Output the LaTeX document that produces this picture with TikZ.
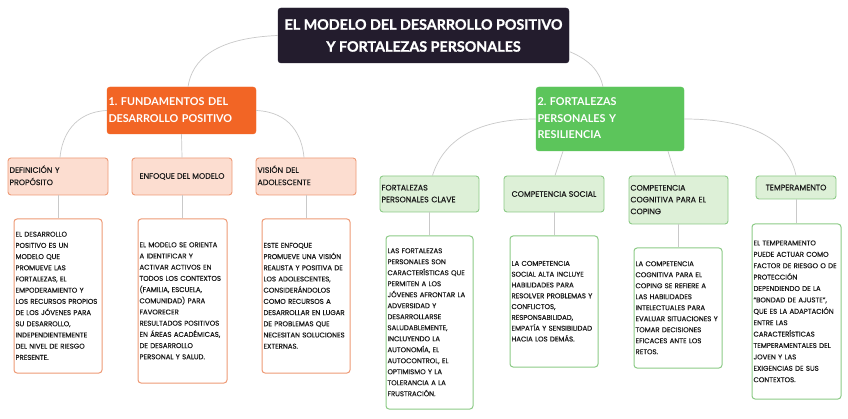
\documentclass[tikz,border=0pt]{standalone}
\usepackage{fontspec}
\setmainfont{Poppins}
\newfontfamily\txtfont{Poppins}[FakeBold=0.35]
\newfontfamily\latofont{Lato}
\newfontfamily\heavyfont{Lato}[FakeBold=1.2]
\usetikzlibrary{calc}
\definecolor{rootc}{HTML}{231C2D}
\definecolor{orn}{HTML}{F26525}
\definecolor{ornlt}{HTML}{FCDDD0}
\definecolor{ornbd}{HTML}{EE9A76}
\definecolor{grn}{HTML}{5CC55B}
\definecolor{grnlt}{HTML}{DDF0D7}
\definecolor{grnbd}{HTML}{8DCB87}
\definecolor{linec}{HTML}{C9C9C9}
\definecolor{txt}{HTML}{1A1A1A}
\newcommand\lns[1]{\begin{tabular}{@{}l@{}}#1\end{tabular}}
\tikzset{
  box/.style={rounded corners=3pt, inner xsep=1.5pt, inner ysep=0pt, align=left},
  rootbox/.style={box, fill=rootc, draw=rootc, text=white, align=center,
    font=\heavyfont\bfseries\fontsize{14.3}{22}\selectfont},
  onebox/.style={box, fill=orn, draw=orn, text=white,
    font=\latofont\bfseries\fontsize{10.8}{17.5}\selectfont},
  gonebox/.style={box, fill=grn, draw=grn, text=white,
    font=\latofont\bfseries\fontsize{10.8}{16.5}\selectfont},
  otwo/.style={box, fill=ornlt, draw=ornbd, line width=0.9pt, text=txt,
    font=\txtfont\fontsize{7.9}{12.3}\selectfont},
  gtwo/.style={box, fill=grnlt, draw=grnbd, line width=0.9pt, text=txt,
    font=\txtfont\fontsize{7.9}{11.8}\selectfont},
  odet/.style={box, fill=white, draw=ornbd, line width=1pt, text=txt,
    font=\txtfont\fontsize{6.95}{11.2}\selectfont},
  gdet/.style={box, fill=white, draw=grnbd, line width=1pt, text=txt,
    font=\txtfont\fontsize{6.95}{11}\selectfont},
  conn/.style={draw=linec, line width=0.7pt},
}
\begin{document}
\begin{tikzpicture}[x=1pt,y=-1pt]
\useasboundingbox[fill=white] (0,0) rectangle (848,419);
% nodes
\node[rootbox, minimum width=291, minimum height=55] (root) at (423.5,35.5)
  {EL MODELO DEL DESARROLLO POSITIVO\\Y FORTALEZAS PERSONALES};
\node[onebox, minimum width=149, minimum height=47, text width=146] (o1) at (181.5,110.5)
  {\lns{1.\ FUNDAMENTOS DEL\\DESARROLLO POSITIVO}};
\node[gonebox, minimum width=148, minimum height=64, text width=145] (g1) at (610,119)
  {\lns{2.\ FORTALEZAS\\PERSONALES Y\\RESILIENCIA}};
% orange level 2
\node[otwo, minimum width=100, minimum height=37, text width=97] (od1) at (58,176.5)
  {\lns{DEFINICIÓN Y\\PROPÓSITO}};
\node[otwo, minimum width=100, minimum height=37, align=center] (od2) at (182,176.5)
  {ENFOQUE DEL MODELO};
\node[otwo, minimum width=100, minimum height=37, text width=97] (od3) at (306,176.5)
  {\lns{VISIÓN DEL\\ADOLESCENTE}};
% green level 2
\node[gtwo, minimum width=99, minimum height=36, text width=96] (gd1) at (429.5,194)
  {\lns{FORTALEZAS\\PERSONALES CLAVE}};
\node[gtwo, minimum width=100, minimum height=36, align=center] (gd2) at (554,194)
  {COMPETENCIA SOCIAL};
\node[gtwo, minimum width=99, minimum height=48, text width=96] (gd3) at (678.5,200)
  {\lns{COMPETENCIA\\COGNITIVA PARA EL\\COPING}};
\node[gtwo, minimum width=80, minimum height=23, align=center] (gd4) at (796,187.5)
  {TEMPERAMENTO};
% orange details
\node[odet, minimum width=88, minimum height=154, text width=85] (ot1) at (58,296)
  {\lns{EL DESARROLLO\\POSITIVO ES UN\\MODELO QUE\\PROMUEVE LAS\\FORTALEZAS, EL\\EMPODERAMIENTO Y\\LOS RECURSOS PROPIOS\\DE LOS JÓVENES PARA\\SU DESARROLLO,\\INDEPENDIENTEMENTE\\DEL NIVEL DE RIESGO\\PRESENTE.}};
\node[odet, minimum width=89, minimum height=164, text width=86] (ot2) at (182.5,301)
  {\lns{EL MODELO SE ORIENTA\\A IDENTIFICAR Y\\ACTIVAR ACTIVOS EN\\TODOS LOS CONTEXTOS\\(FAMILIA, ESCUELA,\\COMUNIDAD) PARA\\FAVORECER\\RESULTADOS POSITIVOS\\EN ÁREAS ACADÉMICAS,\\DE DESARROLLO\\PERSONAL Y SALUD.}};
\node[odet, minimum width=88, minimum height=154, text width=85] (ot3) at (306,296)
  {\lns{ESTE ENFOQUE\\PROMUEVE UNA VISIÓN\\REALISTA Y POSITIVA DE\\LOS ADOLESCENTES,\\CONSIDERÁNDOLOS\\COMO RECURSOS A\\DESARROLLAR EN LUGAR\\DE PROBLEMAS QUE\\NECESITAN SOLUCIONES\\EXTERNAS.}};
% green details
\node[gdet, minimum width=87, minimum height=173, text width=84] (gt1) at (429.5,322.5)
  {\lns{LAS FORTALEZAS\\PERSONALES SON\\CARACTERÍSTICAS QUE\\PERMITEN A LOS\\JÓVENES AFRONTAR LA\\ADVERSIDAD Y\\DESARROLLARSE\\SALUDABLEMENTE,\\INCLUYENDO LA\\AUTONOMÍA, EL\\AUTOCONTROL, EL\\OPTIMISMO Y LA\\TOLERANCIA A LA\\FRUSTRACIÓN.}};
\node[gdet, minimum width=88, minimum height=131, text width=85, font=\txtfont\fontsize{6.95}{10.8}\selectfont] (gt2) at (554,301.5)
  {\lns{LA COMPETENCIA\\SOCIAL ALTA INCLUYE\\HABILIDADES PARA\\RESOLVER PROBLEMAS Y\\CONFLICTOS,\\RESPONSABILIDAD,\\EMPATÍA Y SENSIBILIDAD\\HACIA LOS DEMÁS.}};
\node[gdet, minimum width=88, minimum height=120, text width=85] (gt3) at (678,308)
  {\lns{LA COMPETENCIA\\COGNITIVA PARA EL\\COPING SE REFIERE A\\LAS HABILIDADES\\INTELECTUALES PARA\\EVALUAR SITUACIONES Y\\TOMAR DECISIONES\\EFICACES ANTE LOS\\RETOS.}};
\node[gdet, minimum width=89, minimum height=175, text width=86, font=\txtfont\fontsize{6.95}{11.4}\selectfont] (gt4) at (796.5,311.5)
  {\lns{EL TEMPERAMENTO\\PUEDE ACTUAR COMO\\FACTOR DE RIESGO O DE\\PROTECCIÓN\\DEPENDIENDO DE LA\\“BONDAD DE AJUSTE”,\\QUE ES LA ADAPTACIÓN\\ENTRE LAS\\CARACTERÍSTICAS\\TEMPERAMENTALES DEL\\JOVEN Y LAS\\EXIGENCIAS DE SUS\\CONTEXTOS.}};
% connectors
\path[conn] (root.west) .. controls (215,38) and (192,60) .. ([xshift=6.5]o1.north);
\path[conn] ([yshift=-16]root.east) .. controls (590,60) and (600,72) .. ([xshift=-7]g1.north);
\path[conn] (o1.west) .. controls (75,112) and (62,135) .. ([xshift=2]od1.north);
\path[conn] (o1.south) -- (od2.north);
\path[conn] (o1.east) .. controls (290,112) and (302,135) .. ([xshift=-2]od3.north);
\path[conn] (od1.south) -- (ot1.north);
\path[conn] (od2.south) -- (od2.south |- ot2.north);
\path[conn] (od3.south) -- (ot3.north);
\path[conn] (g1.west) .. controls (470,119) and (442,145) .. ([xshift=3]gd1.north);
\path[conn] ([xshift=-47]g1.south) -- ([xshift=1]gd2.north);
\path[conn] ([xshift=58]g1.south) -- ([xshift=-3]gd3.north);
\path[conn] (g1.east) .. controls (760,119) and (790,145) .. (gd4.north);
\path[conn] (gd1.south) -- (gt1.north);
\path[conn] (gd2.south) -- (gt2.north);
\path[conn] (gd3.south) -- (gd3.south |- gt3.north);
\path[conn] (gd4.south) -- (gd4.south |- gt4.north);
\end{tikzpicture}
\end{document}
